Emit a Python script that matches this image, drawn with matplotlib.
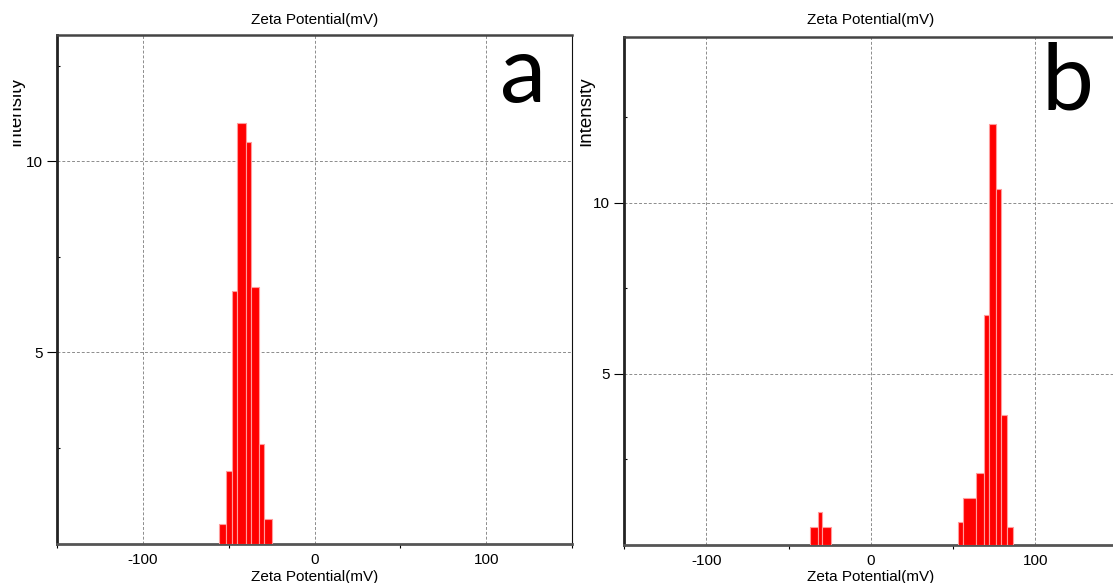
import matplotlib
matplotlib.use('Agg')
import matplotlib.pyplot as plt
import numpy as np
from matplotlib.transforms import Bbox, TransformedBbox

W, H = 1113, 583
plt.rcParams['font.family'] = ['Liberation Sans', 'DejaVu Sans']

# panel a: one peak around -40 mV
a_edges = [-55.5, -51.5, -48.0, -45.0, -40.0, -37.0, -32.5, -29.5, -24.5]
a_heights = [0.5, 1.9, 6.6, 11.0, 10.5, 6.7, 2.6, 0.65]

# panel b: small peak near -30 mV, main peak near +75 mV
b_low_edges = [-37.0, -32.0, -29.5, -24.5]
b_low_heights = [0.5, 0.95, 0.5]
b_high_edges = [52.7, 56.1, 63.6, 68.7, 71.7, 75.8, 79.0, 82.5, 86.5]
b_high_heights = [0.65, 1.35, 2.1, 6.7, 12.3, 10.4, 3.8, 0.5]

xticks = [-100, 0, 100]
xticklabels = ['-100', '0', '100']
xminor = [-150, -50, 50, 150]
yticks = [5, 10]
yminor = [2.5, 7.5, 12.5]

fontsize = 11
bar_color = '#ff0000'
bar_edge = '#ff9c9c'


def px(x, y):
    return x / W, 1 - y / H


def draw_panel(fig, rect, ymax, groups):
    ax = fig.add_axes(rect)
    for edges, heights in groups:
        ax.bar(edges[:-1], heights, width=np.diff(edges), align='edge',
               color=bar_color, edgecolor=bar_edge, linewidth=0.8, zorder=3)
    ax.set_xlim(-150, 150)
    ax.set_ylim(0, ymax)
    ax.set_xticks(xticks)
    ax.set_xticklabels(xticklabels)
    ax.set_xticks(xminor, minor=True)
    ax.set_yticks(yticks)
    ax.set_yticklabels([str(v) for v in yticks])
    ax.set_yticks(yminor, minor=True)
    ax.grid(True, which='major', color='#8c8c8c', linestyle=(0, (3, 2)), linewidth=0.7)
    ax.set_axisbelow(True)
    ax.tick_params(axis='x', which='major', length=0, pad=7, labelsize=fontsize)
    ax.tick_params(axis='x', which='minor', length=3, direction='out', width=0.8)
    ax.tick_params(axis='y', which='major', length=7, pad=3, labelsize=fontsize, width=0.8)
    ax.tick_params(axis='y', which='minor', length=2, direction='in', width=0.8)
    ax.spines['left'].set_color('#222222')
    ax.spines['left'].set_linewidth(2)
    ax.spines['bottom'].set_color('#555555')
    ax.spines['bottom'].set_linewidth(2)
    ax.spines['top'].set_color('#444444')
    ax.spines['top'].set_linewidth(1.8)
    ax.spines['right'].set_color('#111111')
    ax.spines['right'].set_linewidth(0.8)
    return ax


fig = plt.figure(figsize=(W / 100, H / 100), dpi=100)

ax_a = draw_panel(fig, [57 / W, 1 - 543.5 / H, (572 - 57) / W, (543.5 - 35) / H], 13.3,
                  [(a_edges, a_heights)])
ax_b = draw_panel(fig, [624 / W, 1 - 544.5 / H, (1117.75 - 624) / W, (544.5 - 37) / H], 14.84,
                  [(b_low_edges, b_low_heights), (b_high_edges, b_high_heights)])

# axis titles (top and bottom) and clipped y labels
for cx, clip_x, lab_x, letter, lx, ly in [(315, 13, 24, 'a', 500, 102),
                                          (871, 580, 594, 'b', 1041, 110)]:
    fig.text(*px(cx, 20), 'Zeta Potential(mV)', ha='center', va='center', fontsize=fontsize)
    fig.text(*px(cx, 577), 'Zeta Potential(mV)', ha='center', va='center', fontsize=fontsize)
    t = fig.text(*px(lab_x, 111), 'Intensity', rotation=90, ha='right', va='center',
                 fontsize=13.5)
    t.set_clip_box(TransformedBbox(Bbox([[clip_x / W, 0], [1, 1]]), fig.transFigure))
    t.set_clip_on(True)
    fig.text(*px(lx, ly), letter, ha='left', va='baseline', fontsize=67,
             family=['Lato', 'DejaVu Sans'])

fig.savefig('out.png', dpi=100)
